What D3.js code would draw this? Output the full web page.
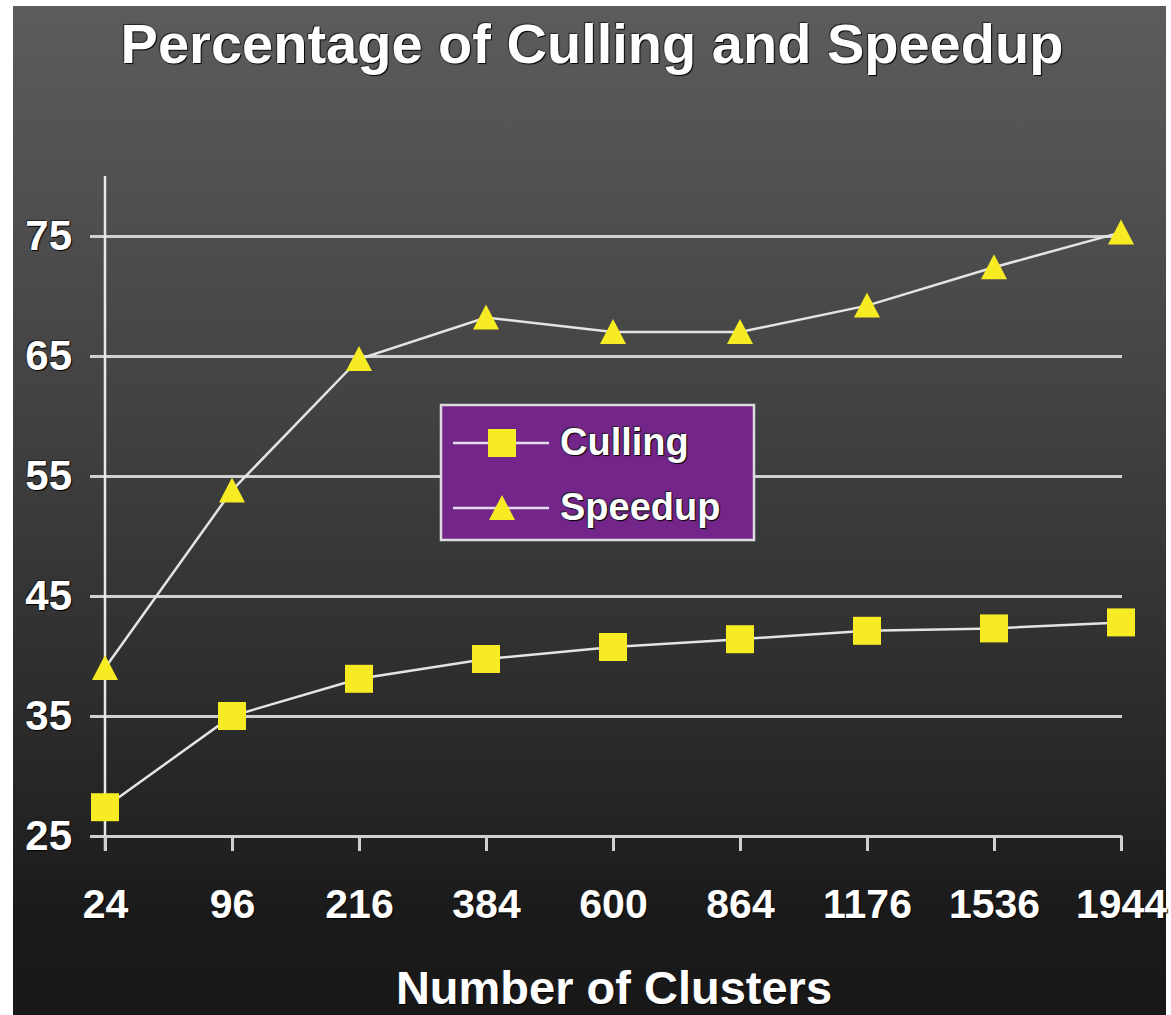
<!DOCTYPE html>
<html>
<head>
<meta charset="utf-8">
<style>
  body { margin: 0; background: #fff; }
  svg text {
    font-family: "Liberation Sans", Arial, Helvetica, sans-serif;
    font-weight: bold;
    fill: #fff;
    text-shadow: 1px 1px 1px #000, -1px -1px 1px #222;
  }
</style>
</head>
<body>
<div id="chart"></div>
<script src="https://cdn.jsdelivr.net/npm/d3@7/dist/d3.min.js"></script>
<script>
  // the data
  var clusters = ["24", "96", "216", "384", "600", "864", "1176", "1536", "1944"];
  var culling = [27.4, 35.0, 38.1, 39.75, 40.75, 41.4, 42.1, 42.3, 42.8];
  var speedup = [39.0, 53.8, 64.75, 68.2, 67.0, 67.0, 69.2, 72.4, 75.3];
  var yTicks = [25, 35, 45, 55, 65, 75];
  var seriesNames = ["Culling", "Speedup"];

  var W = 1171, H = 1015;
  var yellow = "#f7ec24";

  var svg = d3.select("#chart").append("svg")
    .attr("width", W)
    .attr("height", H);

  // background gradient
  var grad = svg.append("defs").append("linearGradient")
    .attr("id", "bg")
    .attr("x1", 0).attr("y1", 0).attr("x2", 0).attr("y2", 1);
  grad.append("stop").attr("offset", "0%").attr("stop-color", "#5c5c5c");
  grad.append("stop").attr("offset", "40%").attr("stop-color", "#424242");
  grad.append("stop").attr("offset", "80%").attr("stop-color", "#242424");
  grad.append("stop").attr("offset", "90%").attr("stop-color", "#1a1a1a");
  grad.append("stop").attr("offset", "100%").attr("stop-color", "#181818");

  svg.append("rect")
    .attr("x", 13).attr("y", 6)
    .attr("width", 1153).attr("height", H - 6)
    .attr("fill", "url(#bg)");

  // scales
  var x = d3.scalePoint().domain(clusters).range([105, 1121]);
  var y = d3.scaleLinear().domain([25, 75]).range([836, 236]);

  // horizontal grid + y labels
  var yAxis = d3.axisLeft(y).tickValues(yTicks).tickSize(-(1122 - 90)).tickPadding(18);
  var gy = svg.append("g")
    .attr("transform", "translate(90,0)")
    .call(yAxis);
  gy.select(".domain").remove();
  gy.selectAll(".tick line")
    .attr("stroke", "#d0d0d0")
    .attr("stroke-width", 3);
  gy.selectAll(".tick text")
    .attr("font-size", 42)
    .attr("fill", "#fff")
    .style("font-family", "Liberation Sans, Arial, sans-serif");

  // vertical axis line
  svg.append("line")
    .attr("x1", x(clusters[0])).attr("x2", x(clusters[0]))
    .attr("y1", y(80)).attr("y2", y(25) + 15)
    .attr("stroke", "#e8e8e8")
    .attr("stroke-width", 2.5);

  // x axis ticks + labels
  var xAxis = d3.axisBottom(x).tickSize(15).tickPadding(0);
  var gx = svg.append("g")
    .attr("transform", "translate(0," + y(25) + ")")
    .call(xAxis);
  gx.select(".domain").remove();
  gx.selectAll(".tick line")
    .attr("stroke", "#d0d0d0")
    .attr("stroke-width", 3);
  gx.selectAll(".tick text")
    .attr("font-size", 41)
    .attr("fill", "#fff")
    .attr("y", 82)
    .attr("dy", 0)
    .style("font-family", "Liberation Sans, Arial, sans-serif");

  // lines
  var line = d3.line()
    .x(function(d, i) { return x(clusters[i]); })
    .y(function(d) { return y(d); });

  [culling, speedup].forEach(function(s) {
    svg.append("path")
      .datum(s)
      .attr("fill", "none")
      .attr("stroke", "#e4e4e4")
      .attr("stroke-width", 2.5)
      .attr("d", line);
  });

  // markers
  var sq = 28;
  svg.selectAll("rect.cull")
    .data(culling)
    .enter()
    .append("rect")
    .attr("class", "cull")
    .attr("x", function(d, i) { return x(clusters[i]) - sq / 2; })
    .attr("y", function(d) { return y(d) - sq / 2; })
    .attr("width", sq).attr("height", sq)
    .attr("fill", yellow);

  function tri(cx, cy) {
    return "M" + cx + "," + (cy - 13) + "L" + (cx + 13) + "," + (cy + 12) + "L" + (cx - 13) + "," + (cy + 12) + "Z";
  }
  svg.selectAll("path.speed")
    .data(speedup)
    .enter()
    .append("path")
    .attr("class", "speed")
    .attr("d", function(d, i) { return tri(x(clusters[i]), y(d)); })
    .attr("fill", yellow);

  // legend
  var leg = svg.append("g");
  leg.append("rect")
    .attr("x", 441).attr("y", 405)
    .attr("width", 313).attr("height", 135)
    .attr("fill", "#74258a")
    .attr("stroke", "#dcdcdc")
    .attr("stroke-width", 2.5);
  var legY = [443, 508];
  seriesNames.forEach(function(name, i) {
    leg.append("line")
      .attr("x1", 453).attr("x2", 549)
      .attr("y1", legY[i]).attr("y2", legY[i])
      .attr("stroke", "#e4dcea")
      .attr("stroke-width", 2.5);
    if (i === 0) {
      leg.append("rect")
        .attr("x", 502 - sq / 2).attr("y", legY[i] - sq / 2)
        .attr("width", sq).attr("height", sq)
        .attr("fill", yellow);
    } else {
      leg.append("path")
        .attr("d", tri(502, legY[i]))
        .attr("fill", yellow);
    }
    leg.append("text")
      .attr("x", 560)
      .attr("y", legY[i] + 12)
      .attr("font-size", 38)
      .text(name);
  });

  // titles
  svg.append("text")
    .attr("x", 592).attr("y", 63)
    .attr("text-anchor", "middle")
    .attr("font-size", 56)
    .text("Percentage of Culling and Speedup");

  svg.append("text")
    .attr("x", 614).attr("y", 1004)
    .attr("text-anchor", "middle")
    .attr("font-size", 47)
    .text("Number of Clusters");
</script>
</body>
</html>
